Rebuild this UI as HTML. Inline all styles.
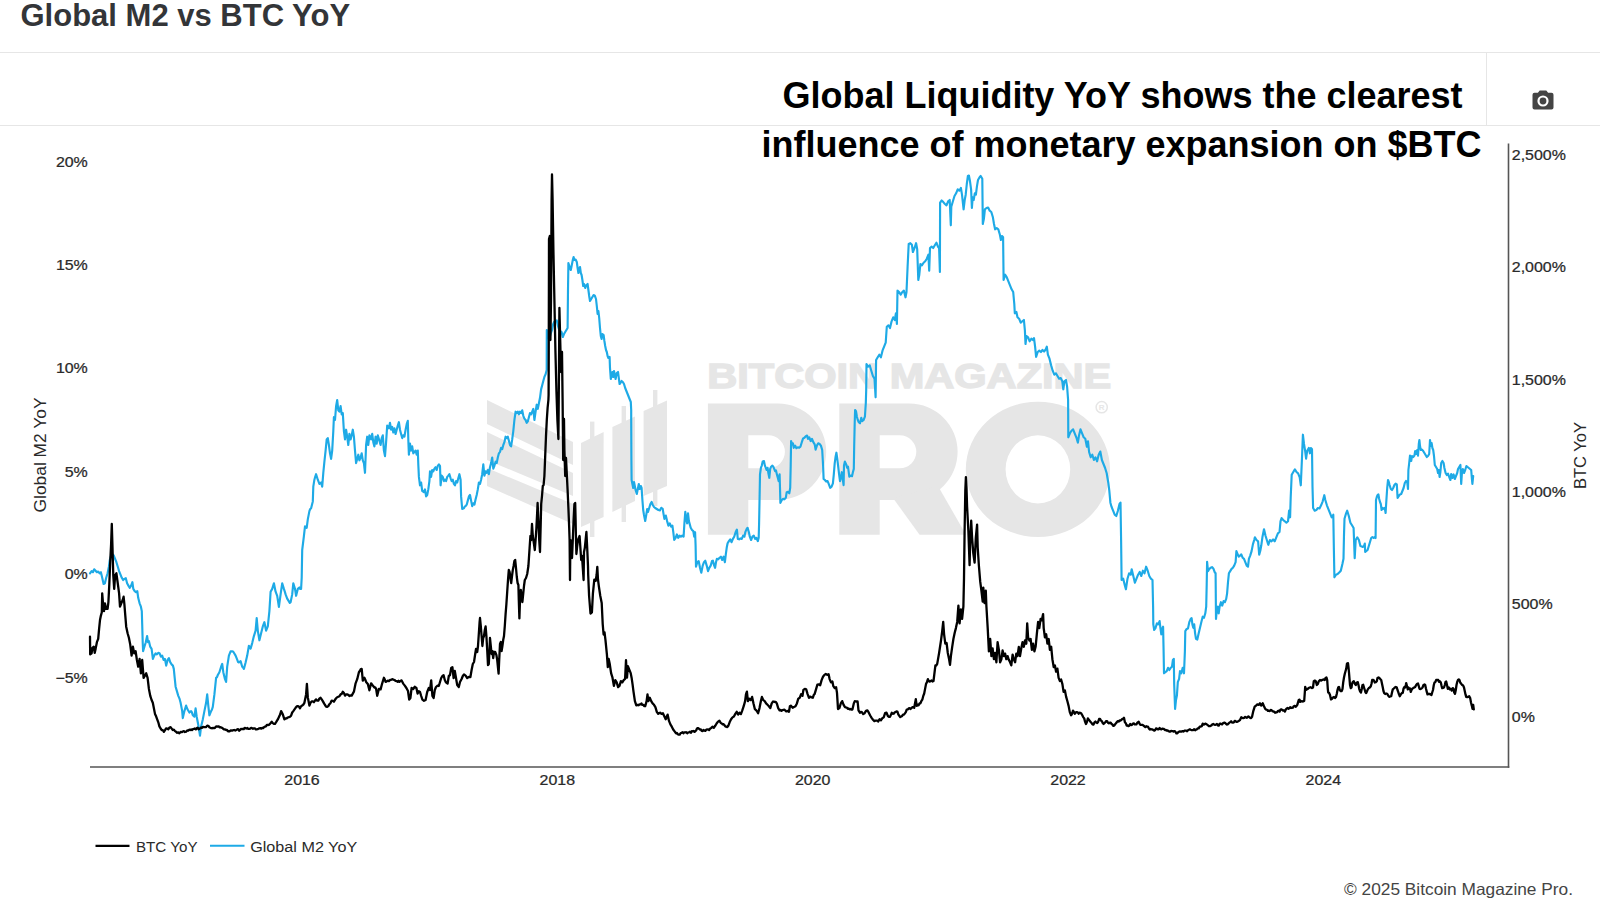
<!DOCTYPE html>
<html><head><meta charset="utf-8"><title>Global M2 vs BTC YoY</title>
<style>
html,body{margin:0;padding:0;background:#fff;}
body{width:1600px;height:900px;overflow:hidden;font-family:'Liberation Sans', sans-serif;}
svg{display:block;font-family:"Liberation Sans",sans-serif;}
</style></head><body>
<svg width="1600" height="900" viewBox="0 0 1600 900">
<rect width="1600" height="900" fill="#fff"/>
<g id="wm"><polygon points="487,400 573,442 573,465 487,424" fill="#e6e6e6"/><polygon points="487,432 573,473 573,496 487,460" fill="#e6e6e6"/><polygon points="487,468 573,504 573,524 487,486" fill="#e6e6e6"/><polygon points="581,443 603.6,432 603.6,517 581,527" fill="#e6e6e6"/><rect x="590" y="421.6" width="4.399999999999977" height="115.39999999999998" fill="#e6e6e6"/><polygon points="612.4,427 635,416.4 635,501 612.4,512" fill="#e6e6e6"/><rect x="621.6" y="406" width="4.399999999999977" height="116" fill="#e6e6e6"/><polygon points="643.6,411 667,400.4 667,486 643.6,496" fill="#e6e6e6"/><rect x="653" y="390" width="4.399999999999977" height="116" fill="#e6e6e6"/><text x="707.3" y="387.6" font-size="35" font-weight="bold" fill="#e6e6e6" textLength="404" lengthAdjust="spacingAndGlyphs" stroke="#e6e6e6" stroke-width="1.4">BITCOIN MAGAZINE</text><path d="M707.9,403.6 H778 A48.2,48.2 0 0 1 778,500 H748.3 V534.8 H707.9 Z M748.3,435.3 H768.4 A16.5,16.5 0 0 1 768.4,468.3 H748.3 Z" fill="#e6e6e6" fill-rule="evenodd"/><path d="M839.3,403.6 H909.4 A48.2,48.2 0 0 1 909.4,500 H879.6999999999999 V534.8 H839.3 Z M879.6999999999999,435.3 H899.8 A16.5,16.5 0 0 1 899.8,468.3 H879.6999999999999 Z" fill="#e6e6e6" fill-rule="evenodd"/><polygon points="893,498 938,486 966,534.8 919.6,534.8" fill="#e6e6e6"/><path d="M965.8,469.35 A72.1,67.65 0 1 0 1110,469.35 A72.1,67.65 0 1 0 965.8,469.35 Z M1005.6,469.35 A32.3,34 0 1 0 1070.2,469.35 A32.3,34 0 1 0 1005.6,469.35 Z" fill="#e6e6e6" fill-rule="evenodd"/><circle cx="1101.7" cy="407.2" r="5.6" fill="none" stroke="#e6e6e6" stroke-width="1.5"/><text x="1101.7" y="410.2" font-size="8" font-weight="bold" fill="#e6e6e6" text-anchor="middle">R</text></g>
<line x1="90" y1="767" x2="1509.3" y2="767" stroke="#555" stroke-width="1.6"/>
<line x1="1508.5" y1="143.5" x2="1508.5" y2="767.8" stroke="#555" stroke-width="1.6"/>
<text transform="translate(87.8,166.7) scale(1.10,1)" font-size="14.5" text-anchor="end" fill="#2a2a2a" stroke="#2a2a2a" stroke-width="0.25">20%</text>
<text transform="translate(87.8,270) scale(1.10,1)" font-size="14.5" text-anchor="end" fill="#2a2a2a" stroke="#2a2a2a" stroke-width="0.25">15%</text>
<text transform="translate(87.8,373.3) scale(1.10,1)" font-size="14.5" text-anchor="end" fill="#2a2a2a" stroke="#2a2a2a" stroke-width="0.25">10%</text>
<text transform="translate(87.8,476.7) scale(1.10,1)" font-size="14.5" text-anchor="end" fill="#2a2a2a" stroke="#2a2a2a" stroke-width="0.25">5%</text>
<text transform="translate(87.8,579.3) scale(1.10,1)" font-size="14.5" text-anchor="end" fill="#2a2a2a" stroke="#2a2a2a" stroke-width="0.25">0%</text>
<text transform="translate(87.8,682.7) scale(1.10,1)" font-size="14.5" text-anchor="end" fill="#2a2a2a" stroke="#2a2a2a" stroke-width="0.25">−5%</text>
<text transform="translate(1511.8,160) scale(1.10,1)" font-size="14.5" text-anchor="start" fill="#2a2a2a" stroke="#2a2a2a" stroke-width="0.25">2,500%</text>
<text transform="translate(1511.8,272.3) scale(1.10,1)" font-size="14.5" text-anchor="start" fill="#2a2a2a" stroke="#2a2a2a" stroke-width="0.25">2,000%</text>
<text transform="translate(1511.8,384.7) scale(1.10,1)" font-size="14.5" text-anchor="start" fill="#2a2a2a" stroke="#2a2a2a" stroke-width="0.25">1,500%</text>
<text transform="translate(1511.8,497) scale(1.10,1)" font-size="14.5" text-anchor="start" fill="#2a2a2a" stroke="#2a2a2a" stroke-width="0.25">1,000%</text>
<text transform="translate(1511.8,609.3) scale(1.10,1)" font-size="14.5" text-anchor="start" fill="#2a2a2a" stroke="#2a2a2a" stroke-width="0.25">500%</text>
<text transform="translate(1511.8,721.7) scale(1.10,1)" font-size="14.5" text-anchor="start" fill="#2a2a2a" stroke="#2a2a2a" stroke-width="0.25">0%</text>
<text transform="translate(302,784.6) scale(1.10,1)" font-size="14.5" text-anchor="middle" fill="#2a2a2a" stroke="#2a2a2a" stroke-width="0.25">2016</text>
<text transform="translate(557.3,784.6) scale(1.10,1)" font-size="14.5" text-anchor="middle" fill="#2a2a2a" stroke="#2a2a2a" stroke-width="0.25">2018</text>
<text transform="translate(812.7,784.6) scale(1.10,1)" font-size="14.5" text-anchor="middle" fill="#2a2a2a" stroke="#2a2a2a" stroke-width="0.25">2020</text>
<text transform="translate(1068,784.6) scale(1.10,1)" font-size="14.5" text-anchor="middle" fill="#2a2a2a" stroke="#2a2a2a" stroke-width="0.25">2022</text>
<text transform="translate(1323.3,784.6) scale(1.10,1)" font-size="14.5" text-anchor="middle" fill="#2a2a2a" stroke="#2a2a2a" stroke-width="0.25">2024</text>
<text transform="translate(45.8,455) rotate(-90)" font-size="16.5" textLength="115" lengthAdjust="spacingAndGlyphs" text-anchor="middle" fill="#2a2a2a">Global M2 YoY</text>
<text transform="translate(1585.8,455.5) rotate(-90)" font-size="16.5" text-anchor="middle" fill="#2a2a2a">BTC YoY</text>
<path d="M90,573.3 L91.6,571.1 L92.9,572.2 L94.2,569.3 L95.6,570.7 L96.9,572.2 L98.2,571.6 L99.6,573.3 L100.9,572.2 L102.2,577.8 L103.6,584 L104.9,583.3 L106.2,577.8 L107.6,573.3 L108.9,566.7 L109.8,560 L111.1,555.6 L112.2,554.2 L113.3,555.1 L113.8,555.6 L115.1,558.9 L116.4,562.2 L117.8,566.7 L119.1,571.1 L120.4,574.4 L121.8,577.8 L123.1,580 L124.4,578.9 L125.8,578.2 L127.1,583.3 L128.4,585.6 L129.8,587.8 L131.1,585.6 L132.4,582.2 L133.3,588.9 L134.7,591.1 L136,592.2 L137.3,591.1 L138.2,597.8 L139.6,603.3 L140.9,606.7 L141.8,611.1 L142.2,624.4 L142.7,642.2 L143.1,651.1 L144.4,646.7 L145.8,642.2 L147.1,636 L148,642.2 L148.9,641.1 L150.2,646.7 L151.6,648.9 L152.9,658.9 L154.2,655.6 L155.6,653.3 L156.9,654.4 L158.2,652.9 L159.6,653.3 L160.9,656.7 L162.2,655.6 L163.6,660 L164.9,658.9 L166.2,665.6 L167.6,660 L168.9,658.2 L170.2,662.2 L171.6,664.4 L172.9,665.6 L173.8,668.9 L174.7,677.8 L175.6,686.7 L176.9,691.1 L178.2,695.6 L179.6,698.9 L180.6,702.8 L182.2,711.1 L182.8,718.1 L184.4,711.1 L186.1,705.6 L186.9,708 L187.8,709.7 L189.4,712.5 L191.1,711.1 L191.9,712.4 L192.8,715.3 L194.4,716.7 L195.6,708.3 L196.7,716.7 L198.3,725 L200,735.6 L201.1,726.4 L202.8,719.4 L204.4,711.1 L206.1,702.8 L207.2,694.4 L208.3,705.6 L209.4,715.3 L211.1,711.1 L211.9,709.8 L212.8,706.9 L214.4,694.4 L216.1,677.8 L216.9,677.4 L217.8,675 L219.4,672.2 L221.1,666.7 L222.2,663.9 L223.3,672.2 L225,679.2 L226.1,681.9 L227.2,666.7 L228.9,655.6 L230.6,651.4 L232.2,651.4 L233.1,651.5 L233.9,652.8 L235.6,655.6 L237.2,659.7 L238.1,662.1 L238.9,662.5 L240.6,661.1 L242.2,666.7 L243.1,667.6 L243.9,668.9 L245.6,662.5 L247.2,655.6 L248.9,645.8 L250.6,648.6 L252.2,643.1 L253.9,636.1 L255.6,630.6 L256.7,618.1 L257.8,630.6 L259.4,640.3 L261.1,633.3 L262.8,626.4 L264.4,622.2 L266.1,630.6 L267.8,626.4 L269.4,611.1 L270.6,591.7 L272.2,588.9 L273.9,583.3 L275.6,591.7 L277.2,595.8 L278.9,606.9 L280.6,594.4 L282.2,583.3 L283.9,588.9 L284.8,591.6 L285.6,594.4 L287.2,598.6 L288.9,601.4 L289.8,602.9 L290.6,602.2 L292.2,594.4 L293.3,583.3 L295,588.9 L296.1,595.8 L297.8,588.9 L299.4,587.5 L300.2,588.9 L301.1,588.9 L301.7,577.8 L302.2,550 L303.9,536.1 L305,526.4 L306.7,527.8 L307.8,519.4 L309.4,511.1 L310.2,509 L311.1,508.3 L312.8,501.4 L313.3,486.7 L314.4,479.7 L315.2,476.8 L316.1,474.2 L317.8,479.7 L319.4,483.9 L320.2,483.2 L321.1,482.5 L322.2,486.7 L323.3,472.8 L324.4,461.7 L325.6,450.6 L326.7,439.4 L327.8,438.1 L328.9,445 L330,453.3 L331.1,458.9 L332.2,450.6 L333.3,431.1 L333.9,417.2 L335,420 L336.1,406.1 L337.2,400 L338.3,410.3 L339.4,411.7 L340.6,406.1 L341.7,414.4 L342.8,413.1 L343.9,431.1 L345,439.4 L346.1,429.7 L347.2,436.7 L348.3,445 L349.4,433.9 L350.6,439.4 L351.7,435.3 L352.8,429.7 L353.9,436.7 L355,450.6 L356.1,463.1 L357.2,458.9 L358.3,454.7 L359.4,460.3 L360.6,457.5 L361.7,453.3 L362.8,460.3 L363.9,463.1 L365,472.8 L366.1,445 L367.2,436.7 L368.3,445 L369.4,435.3 L370.2,437 L371.1,439.4 L372.2,433.9 L373.3,442.2 L374.4,446.4 L375.6,436.7 L376.7,443.6 L377.8,435.3 L379.4,440.8 L380.6,445 L381.7,438.1 L382.8,435.3 L383.9,450.6 L385,456.1 L386.1,442.2 L387.2,425.6 L388.9,428.3 L390,422.8 L391.1,429.7 L392.2,426.9 L393.3,432.5 L394.4,428.3 L395.6,433.9 L396.7,429.7 L397.8,425.6 L398.9,422.2 L400,429.7 L401.1,433.9 L402.2,438.1 L403.3,435.3 L404.4,436.7 L405.6,429.7 L406.7,424.2 L407.8,420.8 L408.3,439.4 L408.9,454.7 L410,443.6 L411.1,450.6 L412.2,446.4 L413.3,453.3 L414.4,451.9 L415.6,450.6 L416.7,454.7 L417.8,450.6 L418.3,464.4 L418.9,476.9 L420,485.3 L421.1,482.5 L422.2,490.8 L423.9,492.2 L425,489.4 L426.1,496.4 L427.2,495 L428.3,489.4 L429.4,481.1 L430,471.4 L431.1,476.9 L432.2,470 L433.3,471.4 L434.4,468.6 L435.6,467.2 L436.7,470 L437.8,465.8 L438.9,464.4 L440,465.8 L440.6,485.3 L441.7,475.6 L442.8,476.9 L443.9,481.1 L445,479.7 L446.1,481.1 L447.2,476.9 L448.3,475.6 L449.4,474.2 L450.6,478.3 L451.7,481.1 L452.8,479.7 L453.9,483.9 L455,485.3 L456.1,481.1 L457.2,482.5 L458.3,478.3 L459.4,474.2 L460.6,479.7 L461.1,496.4 L462.2,508.9 L463.9,508.3 L464.8,506.5 L465.6,506.1 L466.7,504.7 L467.8,500.6 L468.9,496.4 L470,495 L471.1,500.6 L472.2,506.1 L473.3,503.3 L474.4,504.7 L475.6,499.2 L476.7,495 L477.8,489.4 L478.9,482.5 L480,483.9 L481.1,479.7 L482.2,474.2 L483.3,464.4 L484.4,475.6 L485.6,471.4 L486.7,472.8 L487.8,470 L488.9,474.2 L490,467.2 L491.1,463.1 L492.2,457.5 L493.3,468.6 L494.4,465.8 L495.6,461.7 L496.7,463.1 L497.8,457.5 L498.9,453.3 L500,451.9 L501.1,447.8 L502.2,449.2 L503.3,445 L504.4,442.2 L505.6,436.7 L506.7,438.1 L507.8,436.7 L508.9,440.8 L510,445 L511.1,446.4 L512.2,439.4 L513.3,431.1 L514.4,420 L515.6,411.7 L516.7,413.1 L517.8,411.7 L518.9,414.4 L520,411.7 L521.1,413.1 L522.2,410.3 L523.3,415.8 L524.4,418.6 L525.6,420 L526.7,422.8 L527.8,421.4 L528.9,417.2 L530,413.1 L531.1,414.4 L532.2,411.7 L533.3,408.9 L534.4,420 L535.6,411.7 L536.7,404.7 L537.8,408.9 L538.9,403.3 L540,397.8 L541.1,389.4 L542.2,385.3 L543.3,381.1 L544.4,376.9 L545.6,374.2 L546.7,370 L546.8,330 L548,338 L549.2,339 L550.6,334 L552,330 L553.2,324 L554.4,321.6 L555.6,321 L556.8,320.4 L558,326 L559.2,330 L560.4,331 L561.6,332 L562.8,337 L564,334 L565.2,332 L566.4,330 L567.6,328 L568,290 L568.4,263 L569.6,267 L570.8,270 L572,264 L572.8,260 L573.6,257 L574.4,260 L575.6,259.6 L576.8,262 L577.6,268 L578.4,273 L579.2,269 L580,267 L580.8,273 L581.6,275 L582.4,280 L583.2,286 L584,284 L585.2,288 L586.4,285 L587.6,284 L588.4,290 L589.2,296 L590,301 L591.2,299 L592.4,297 L593.6,295 L594.8,295.6 L596,299 L596.8,306 L597.6,314 L598.4,311 L599.2,318 L600,328 L600.8,336 L601.6,339 L602.4,334 L603.6,335 L604.4,341 L605.2,346 L606,350 L606.8,352 L607.6,356 L608.4,358 L609.6,357 L610,368 L610.8,379 L611.6,374 L612.4,372 L613.2,377 L614,371 L614.8,375 L615.6,379 L616.8,373 L618,372 L618.8,378 L619.6,384 L620.4,383 L621.6,381 L622.8,382 L624,384 L625.2,388 L626.4,391 L627.6,394 L628.8,397 L630,400 L630.8,402 L631.2,410 L631.2,420 L631.4,460 L631.6,480 L632.4,484 L633.2,488 L634,482 L634.8,486 L635.6,490 L636.8,494 L638,488 L638.8,484 L639.6,489 L640.8,486 L641.6,488 L642.4,500 L643.2,510 L644,515 L645.2,521 L646.4,514 L647.2,509 L648,512 L649.2,508 L650.4,504 L651.6,502 L652.8,505 L654,507 L655.2,508 L656.8,509 L658.4,510 L660,510.4 L660,510 L661.3,507.8 L662.7,508.9 L663.6,514.4 L664.4,518.9 L665.8,515.6 L667.1,521.1 L668.4,525.6 L669.8,523.3 L671.1,526.7 L672.4,525.6 L673.3,532.2 L674.2,540 L675.6,537.8 L676.9,534.4 L678.2,537.8 L679.6,535.6 L680.9,536.7 L682.2,535.6 L683.6,536.7 L684.4,523.3 L685.3,511.8 L686.2,518.9 L687.1,523.3 L688,513.3 L688.9,521.1 L689.8,524.4 L690.7,527.8 L692,530 L693.3,531.1 L694.2,536.7 L695.1,532.2 L695.6,545.6 L696,566.7 L697.3,562.2 L698.7,561.1 L700,567.8 L701.3,572.7 L702.7,565.6 L704,562.2 L705.3,560.7 L706.7,565.6 L708,571.1 L709.3,567.8 L710.7,565.6 L712,561.1 L712.9,560.7 L714.2,565.6 L715.1,567.8 L716,562.2 L716.9,558.9 L718.2,559.3 L719.6,557.8 L720.9,556.7 L722.2,560 L723.6,556.7 L724.9,562.2 L725.8,554.4 L726.7,547.8 L727.6,543.3 L728.9,541.1 L730.2,539.3 L731.6,542.2 L732.9,538.9 L734.2,536.7 L735.6,532.2 L736.9,529.6 L737.8,538.9 L739.1,539.3 L740.4,538.4 L741.8,538.9 L743.1,535.6 L744.4,536.7 L745.3,532.2 L746.7,528.9 L747.6,527.8 L748.9,532.2 L749.8,536.7 L751.1,540 L752.4,536.7 L753.8,535.6 L755.1,538.9 L756.4,537.8 L757.8,541.1 L758.7,537.8 L759.1,523.3 L759.6,496.7 L760,474.4 L760.9,467.8 L761.8,465.6 L762.7,461.6 L764,461.1 L764.9,465.6 L765.8,467.8 L766.7,470 L767.6,467.8 L768.4,473.3 L769.3,477.8 L770.2,468.9 L771.1,466.7 L772.4,465.6 L773.3,466.7 L774.2,468.9 L775.1,471.1 L776,470.4 L776.9,474.4 L777.8,477.8 L778.7,481.1 L779.6,474.4 L780,487.8 L780.4,502.9 L781.8,500 L783.1,498.9 L784.4,499.3 L785.8,497.8 L786.7,492.2 L788,491.8 L789.3,493.3 L790.2,487.8 L790.7,465.6 L791.1,441.1 L792,444.4 L792.9,443.3 L793.8,447.8 L795.1,445.6 L796.4,448.2 L797.8,447.3 L799.1,447.8 L800.4,446.7 L801.8,442.2 L803.1,438.4 L804.4,437.8 L805.8,436.2 L807.1,435.6 L808,438.9 L809.3,437.3 L810.7,441.1 L812,438.9 L813.3,442.2 L814.7,444.4 L815.6,449.6 L816.9,445.6 L818.2,443.3 L819.6,444 L820.9,445.6 L822.2,450 L823.1,465.6 L823.6,478.9 L824.9,480 L826.2,481.6 L827.6,481.1 L828.9,484.4 L830.2,487.8 L831.6,486.7 L832.9,483.3 L833.8,474.4 L834.7,463.3 L835.6,456.7 L836.4,452.7 L837.3,458.9 L838.2,466.7 L839.1,474.4 L840,481.1 L840.9,477.8 L841.8,472.2 L842.7,478.9 L843.6,485.1 L844,465.6 L844.9,461.6 L846.2,464.4 L847.1,467.8 L848,466.7 L849.3,476.7 L850.7,475.6 L852,476.2 L852.9,472.2 L853.8,468.9 L854.2,445.6 L854.7,423.3 L855.1,410 L856,411.1 L856.9,416.7 L857.8,420 L858.7,422.2 L860,423.3 L861.3,417.8 L862.2,421.1 L863.6,420 L864.9,416.7 L865.8,403.3 L866.2,390 L866.5,364 L868.1,366.7 L869.7,365.3 L871.3,370.7 L872.9,376 L874.5,378.7 L875.6,397.3 L876.1,360 L877.7,357.3 L879.3,354.7 L880.9,357.3 L882.5,350.7 L884.1,346.7 L885.7,342.7 L886.8,326.7 L888.4,325.3 L890,328 L891.6,321.3 L893.2,317.3 L894.8,320 L895.9,313.3 L896.9,324 L897.5,290.7 L899.1,292 L900.7,294.7 L902.3,292 L903.9,290.7 L905.5,297.3 L906.5,292 L907.6,266.7 L908.7,244 L910.3,243.2 L911.9,244.8 L912.9,252 L914.5,248 L916.1,243.2 L917.2,249.3 L918.3,280 L919.3,274.7 L920.4,264 L922,265.3 L923.6,262.7 L925.2,261.3 L926.8,258.7 L928.4,254.7 L929.2,270.7 L930,248 L931.6,246.7 L933.2,248 L934.8,245.3 L936.4,242.7 L938,246.7 L939.1,248 L939.9,272 L940.1,202.7 L941.7,200.5 L943.3,202.1 L944.9,204 L946.5,205.3 L948.1,201.3 L949.7,200 L950.8,225.3 L951.3,206.7 L952.9,201.3 L954.5,196 L956.1,193.3 L957.7,189.3 L959.3,190.7 L960.9,188 L962,194.7 L963.6,209.3 L964.7,200 L965.7,194.7 L966.8,184 L967.9,176 L968.9,175.5 L970,181.3 L971.1,189.3 L971.9,208 L972.7,197.3 L973.7,200 L974.8,193.3 L975.9,194.7 L976.9,186.7 L978,180 L979.6,177.3 L980.7,176 L982.3,178.7 L982.8,224 L983.9,218.7 L984.9,209.3 L986.5,208 L988.1,207.5 L989.7,210.7 L991.3,212 L992.9,217.3 L994,224 L995.1,229.3 L996.7,228 L998.3,229.3 L999.9,234.7 L1000.9,240 L1002,236 L1003.1,237.3 L1003.6,280 L1005.2,274.7 L1006.8,277.3 L1008.4,281.3 L1010,285.3 L1011.6,289.3 L1013.2,292 L1014.3,304 L1014.8,313.3 L1016.4,312 L1017.5,317.3 L1019.1,318.7 L1020.7,322.7 L1022.3,321.3 L1023.9,320 L1024.9,330.7 L1025.5,344 L1026.5,336 L1028.1,337.3 L1029.7,341.3 L1031.3,338.7 L1032.9,340 L1034,338.1 L1035.1,346.7 L1036.1,356.8 L1037.7,352 L1039.3,350.7 L1040.9,352 L1042.5,349.9 L1044.1,351.5 L1045.7,349.3 L1046.8,346.7 L1047.9,354.7 L1049.5,358.7 L1051.1,365.3 L1052.7,370.7 L1054.3,374.7 L1055.9,373.3 L1057.5,376 L1059.1,378.7 L1060.7,378.1 L1062.3,381.3 L1063.3,389.3 L1064.4,381.3 L1066,380 L1067.1,386.7 L1068.1,400 L1068.3,437.3 L1069.9,433.3 L1071.5,430.7 L1073.1,429.3 L1074.7,433.3 L1076.3,437.3 L1077.9,442.7 L1078.9,436 L1080.5,429.3 L1082.1,433.3 L1083.7,437.3 L1085.3,438.7 L1086.9,446.7 L1088,441.3 L1089.1,452 L1090.7,457.3 L1092.3,454.7 L1093.9,460 L1095.5,457.3 L1097.1,461.3 L1098.7,454.7 L1100.3,451.5 L1101.9,460 L1103.5,464 L1105.1,468 L1106.7,473.3 L1108.3,482.7 L1109.3,490.7 L1110.4,502.7 L1111.5,506.7 L1113.1,510.7 L1114.7,514.7 L1116.3,516 L1117.9,510.7 L1119.5,504 L1120.5,502.7 L1121.1,540 L1121.6,580 L1123.2,578.7 L1124.8,585.3 L1125.9,589.3 L1127.5,578.7 L1129.1,573.3 L1130.7,574.7 L1131.7,569.3 L1133.3,576 L1134.9,582.7 L1136.5,578.7 L1138.1,574.7 L1139.7,572 L1141.3,576 L1142.9,570.7 L1144.5,573.3 L1146.1,566.7 L1147.7,570.7 L1149.3,576 L1150.9,578.7 L1152.5,580 L1153.1,606.7 L1153.3,624.4 L1154.2,630 L1155.6,627.8 L1156.9,623.3 L1158.2,624.4 L1159.6,621.1 L1160.4,627.8 L1161.3,634.4 L1162.2,628.9 L1163.1,626.7 L1163.6,651.1 L1164,673.3 L1165.3,672.2 L1166.7,671.1 L1168,667.8 L1169.3,670 L1170.7,667.8 L1172,666.7 L1172.9,660 L1173.8,658.9 L1174.2,684.4 L1175.1,708.9 L1176,700 L1176.9,695.6 L1177.8,682.2 L1179.1,678.9 L1180,671.1 L1181.3,673.3 L1182.7,667.8 L1184,673.3 L1184.9,651.1 L1185.3,631.1 L1186.7,628.9 L1188,628.4 L1189.3,622.2 L1190.7,618.9 L1191.6,618.2 L1192.4,624.4 L1193.3,627.8 L1194.2,624.4 L1195.1,633.3 L1196,638.9 L1197.3,639.6 L1198.7,633.3 L1200,627.8 L1201.3,622.2 L1202.7,616.7 L1204,617.8 L1205.3,613.3 L1206.2,606.7 L1206.7,584.4 L1207.1,561.8 L1208,571.1 L1209.3,568.9 L1210.7,567.8 L1212,567.1 L1213.3,568.4 L1214.7,572.2 L1215.6,573.3 L1216,618.9 L1216.9,608.9 L1217.8,606.7 L1218.7,613.3 L1219.6,606.7 L1220.9,602.2 L1222.2,605.6 L1223.6,601.1 L1224.9,602.2 L1226.2,598.9 L1227.1,593.3 L1228,582.2 L1228.9,573.3 L1230.2,571.1 L1231.6,568.9 L1232.9,567.8 L1234.2,565.6 L1235.6,562.2 L1236.4,551.1 L1237.3,553.3 L1238.7,556.7 L1240,555.6 L1241.3,554.4 L1242.7,557.8 L1244,558.9 L1245.3,562.2 L1246.7,565.6 L1248,566.7 L1248.9,558.9 L1250.2,555.6 L1251.6,551.1 L1252.9,544.4 L1254.2,540 L1254.9,537.3 L1256.5,540 L1258.1,541.3 L1259.2,554.7 L1260.3,550.7 L1261.3,545.3 L1262.4,537.3 L1264,529.3 L1265.6,536 L1267.2,541.3 L1268.3,544.8 L1269.9,540 L1271.5,541.3 L1273.1,539.5 L1274.7,541.3 L1276.3,537.3 L1277.9,533.3 L1279.5,532 L1280.5,521.3 L1281.6,518.1 L1283.2,520 L1284.8,521.3 L1286.4,522.7 L1288,521.3 L1289.1,510.7 L1290.1,517.3 L1290.7,497.3 L1291.7,474.7 L1293.3,472 L1294.9,469.3 L1296.5,472 L1298.1,473.3 L1299.7,477.3 L1300.8,485.3 L1301.9,460 L1302.9,434.7 L1304,444 L1305.1,450.7 L1306.1,458.7 L1307.2,450.7 L1308.8,448 L1309.9,453.3 L1310.9,448 L1312,449.3 L1312.5,486.7 L1313.1,508 L1314.7,510.7 L1316.3,510.1 L1317.9,508 L1319.5,508.5 L1321.1,505.3 L1322.7,501.3 L1324.3,495.2 L1325.3,500 L1326.9,505.3 L1328.5,509.3 L1330.1,513.3 L1331.7,517.3 L1333.3,514.7 L1333.9,550.7 L1334.4,577.3 L1336,574.7 L1337.6,574.1 L1339.2,572.5 L1340.8,570.7 L1342.4,564 L1343.5,558.7 L1344,534.7 L1344.5,518.7 L1346.1,513.3 L1347.2,510.7 L1348.8,516 L1350.4,522.7 L1352,525.3 L1353.6,528 L1354.7,558.1 L1355.7,540 L1357.3,537.3 L1358.9,540 L1360.4,546 L1361.6,546.4 L1362.8,547 L1364,546 L1364.8,543.6 L1365.2,552 L1366.4,551 L1367.6,550 L1368.8,546 L1370,542 L1371.2,538 L1372.4,537 L1373.6,538 L1374.8,537 L1375.6,538 L1376,500 L1376.8,497 L1377.6,495 L1378.4,494.4 L1379.2,499 L1380,502 L1380.8,504 L1381.6,510 L1382.8,508 L1384,509 L1384.8,508 L1385.6,513 L1386.4,500 L1387.2,488 L1388,480 L1388.8,482 L1389.6,485 L1390.8,489 L1392,490 L1393.2,488 L1394.4,485 L1395.6,483.6 L1396.8,484.4 L1397.6,498 L1398.8,496 L1400,494.4 L1401.2,494 L1402.4,491 L1403.6,488 L1404.8,483 L1406,481 L1407.2,482 L1408,489 L1408.4,470 L1409.2,463 L1410,455.6 L1411.2,461 L1412,456 L1413.2,457 L1414.4,455.6 L1415.2,451 L1416.4,454 L1417.2,450 L1418,455.6 L1418.8,444 L1419.4,440 L1420,446 L1420.8,450 L1422,449.6 L1423.2,451 L1424.4,453 L1425.6,455 L1426.8,457 L1428,456 L1429.2,454 L1430,440 L1430.8,446 L1431.6,443 L1432.4,448 L1433.2,450 L1434,456 L1434.8,465 L1436,467 L1437.2,469 L1438,473 L1438.8,470 L1439.6,477 L1440.4,472 L1441.2,463 L1442.4,461 L1443.6,463 L1444.4,468 L1445.6,473 L1446.8,475 L1448,473.6 L1449.2,477 L1450.4,480 L1451.2,474 L1452.4,478 L1453.6,474.4 L1454.8,479 L1456,476 L1457.2,473 L1458,469 L1459.2,467 L1460.4,465 L1461.2,484 L1462,472 L1462.8,469 L1464,473 L1465.2,470 L1466.4,466 L1467.6,467 L1468.8,468 L1470,469 L1471.2,470 L1472,480 L1472.4,484 L1473.2,476" fill="none" stroke="#1eaae6" stroke-width="2.15" stroke-linejoin="round" stroke-linecap="round"/>
<path d="M90,636.7 L90.2,654.4 L91.6,653.3 L92.4,647.8 L93.8,646.7 L94.7,652.9 L95.6,648.9 L96.9,642.2 L98.2,638.9 L99.1,628.9 L100,620 L100.9,615.6 L101.8,612.2 L102.2,593.3 L103.1,604.4 L104,611.1 L104.9,603.3 L106.2,608.9 L107.6,608.9 L108.4,602.2 L109.3,584.4 L110.2,562.2 L111.1,544.4 L111.8,524 L112.4,544.4 L112.9,562.2 L113.3,575.6 L114.2,588.9 L115.1,575.6 L116.4,573.3 L117.3,580 L118.2,586.7 L119.1,593.3 L120,606.7 L121.3,603.3 L122.7,600 L123.6,596.7 L124.4,604.4 L125.3,615.6 L126.2,626.7 L127.6,633.3 L128.9,637.8 L130.2,644.4 L131.6,655.6 L132.9,646.7 L134.2,653.3 L135.6,651.1 L136.9,660 L138.2,666.7 L139.6,658.9 L140.9,673.3 L142.2,660 L143.6,677.8 L144.9,675.6 L146.2,673.3 L147.6,677.8 L148.9,688.9 L150.2,695.6 L151.6,700 L152.8,702.8 L155,713.9 L156.1,716.3 L157.2,719.4 L158.3,722.3 L159.4,726.4 L160.6,728.5 L161.7,730 L162.8,730.2 L163.9,731.9 L165,730.2 L166.1,728.3 L167.2,728.6 L168.3,729.4 L169.4,727.5 L170.6,727.2 L171.7,728.6 L172.8,730 L173.9,729.7 L175,731.1 L176.1,731.8 L177.2,732.8 L178.3,732.3 L179.4,733.3 L180.6,732 L181.7,732.2 L182.8,731.5 L183.9,731.1 L185,732 L186.1,731.7 L187.2,730.5 L188.3,730.6 L189.2,729.7 L190.2,730 L191.1,729.4 L192,730 L193,729.2 L193.9,728.9 L194.8,728.5 L195.8,729.4 L196.7,728.3 L197.6,727.7 L198.5,729.3 L199.4,728.9 L200.3,728.2 L201.3,727.5 L202.2,727.8 L203.1,726.9 L204.1,727.1 L205,727.2 L206.1,727 L207.2,725.6 L208.3,725.8 L209.4,727.2 L210.3,727.7 L211.3,728.2 L212.2,728.3 L213.1,727.9 L214.1,728.1 L215,727.8 L215.9,726.6 L216.9,726.3 L217.8,726.7 L218.7,726.3 L219.7,727.4 L220.6,727.2 L221.5,727.6 L222.4,728 L223.3,728.9 L224.2,729.4 L225.2,729.5 L226.1,730 L227,730 L228,731.3 L228.9,731.1 L229.8,731.3 L230.8,730.3 L231.7,730.6 L232.6,730.5 L233.5,730.2 L234.4,730 L235.3,730.5 L236.3,730 L237.2,729.4 L238.1,729.2 L239.1,730.7 L240,730 L240.9,728.9 L241.9,729.1 L242.8,728.9 L243.7,729.2 L244.7,727.9 L245.6,728.3 L246.5,728.5 L247.4,727.9 L248.3,728.9 L249.2,728.8 L250.2,728.6 L251.1,727.8 L252,728.1 L253,728.8 L253.9,728.3 L254.8,728.3 L255.8,729.4 L256.7,729.4 L257.6,729.2 L258.5,728.8 L259.4,728.3 L260.3,728.1 L261.3,728.6 L262.2,727.8 L263.1,728.2 L264.1,727 L265,726.7 L265.9,726.4 L266.9,724.8 L267.8,725 L268.9,724.8 L270,723.9 L271.7,721.7 L272.8,723.1 L273.9,723.9 L275,723.9 L276.1,722.2 L277.8,719.4 L279.4,716.1 L280.2,714.2 L281.1,711.1 L282.8,714.4 L284.4,719.4 L285.5,718.5 L286.7,718.3 L287.8,717.5 L288.9,717.2 L290,716.7 L291.1,715.6 L292.2,712.5 L293.3,711.1 L294.5,709.4 L295.6,707.8 L296.7,706.4 L297.8,706.1 L298.9,706.5 L300,708.3 L301.1,706.2 L302.2,705.6 L303.3,704.7 L304.4,702.8 L306.1,694.4 L306.9,683.9 L307.8,697.2 L309.4,705.6 L310.5,702.8 L311.7,701.4 L312.8,701.3 L313.9,702.2 L315,700.6 L316.1,699.4 L317.2,700.7 L318.3,700.6 L319.5,698.4 L320.6,697.8 L321.7,699.4 L322.8,701.1 L323.9,703.1 L325,705 L326.1,706.6 L327.2,706.9 L328.3,706.1 L329.4,704.2 L330.5,703.1 L331.7,700.6 L332.8,700.8 L333.9,701.7 L335,699.8 L336.1,698.3 L337.2,697.2 L338.3,696.7 L339.5,696.2 L340.6,694.4 L341.7,693.9 L342.8,691.7 L343.9,693 L345,695.6 L346.1,694.4 L347.2,694.4 L348.3,694.8 L349.4,696.1 L350.5,695.4 L351.7,695.6 L352.8,693.6 L353.9,691.7 L355.6,683.3 L357.2,679.2 L358.9,672.2 L359.8,671 L360.6,669.4 L361.7,668.9 L362.8,680.6 L364.4,677.8 L365.2,679.4 L366.1,681.9 L367.8,683.9 L369.4,690.3 L371.1,683.3 L372.8,685.6 L374.4,687.5 L375.2,687.3 L376.1,688.9 L377.2,695.8 L378.9,688.9 L379.8,689 L380.6,689.4 L382.2,683.3 L383.9,677.8 L384.8,679.6 L385.6,681.9 L386.7,681.4 L387.8,680.6 L388.9,681.1 L390,680 L391.1,679.9 L392.2,679.2 L393.3,679.6 L394.4,680 L395.5,680.8 L396.7,681.1 L397.6,681.7 L398.5,680.8 L399.4,681.9 L400,681.2 L401.6,680.4 L403.2,683.6 L404.8,685.6 L406.4,688 L408,691 L409.2,699.6 L410.4,698 L411.6,688 L413.2,689 L414.8,686.8 L416.4,688 L417.6,693.6 L418.8,691.2 L420,692 L421.2,696 L422.4,699.6 L424,700.8 L425.6,700 L427.2,692 L428.8,688 L430,690 L431.2,680.4 L432.4,696 L433.6,698 L434.8,690 L436,687 L437.6,685.6 L438.8,686 L440,682 L441.2,678 L442.4,676 L443.6,675.2 L444.8,680 L446,682.4 L447.6,683.6 L448.8,676 L450,675 L451.2,668 L452.4,667.2 L453.6,678 L454.8,671 L456,678 L457.2,685 L458.8,687 L460,682 L461.6,679 L462.8,676 L464,674.4 L465.6,675.6 L467.2,678 L468.8,677 L470.4,677 L471.6,670 L472.8,664 L474,662 L475.2,654 L476,649 L477.2,652 L478,646 L478.8,634 L479.6,622 L480,618 L480.8,626 L481.6,636 L482.4,646 L483.2,638 L484,636 L484.8,630 L485.6,626.4 L486.4,636 L487.2,650 L488,665.2 L488.8,664 L489.6,648 L490,638 L490.8,646 L491.6,654 L492.4,651 L493.2,658 L494,652 L495.2,652 L496.4,655 L497.2,660 L498,668 L498.6,673.6 L499.2,660 L500,644 L500.8,642 L501.6,651 L502.4,646 L503.2,640 L504,636 L504.8,626 L505.6,614 L506.4,604 L507.2,592 L508,580 L508.8,570 L509.6,572 L510.4,578 L511.2,583 L512,576 L512.8,570 L513.6,566 L514.4,561 L515.2,560 L516,568 L516.8,577 L517.6,583 L518.4,585 L518.8,600 L519.4,618.4 L520,600 L520.8,590 L521.6,596 L522.4,602 L523.2,594 L524,586 L524.8,580 L526,578 L527.2,574 L528.4,566 L529.6,548 L530.4,536 L531.2,540 L532,524 L532.8,536 L534,544 L534.8,550 L535.6,540 L536.4,528 L537.2,512 L537.6,503 L538.4,520 L539.2,540 L540,552 L540.8,520 L541.2,504 L542,496 L542.8,486 L543.6,485 L544.4,476 L545.2,456 L546,436 L546.8,420 L547.6,408 L548.4,400 L548.6,395 L548.8,330 L549,239 L549.8,236 L550.4,340 L551,300 L551.6,200 L552,174.5 L552.6,200 L553.4,250 L554.4,300 L555.4,350 L556.4,390 L557.4,420 L558.4,439 L558.9,380 L559.4,308 L560.2,340 L561,372 L562,352 L562.6,400 L563.2,460 L564,419 L564.4,450 L565.2,476 L566,458 L566.8,474 L567.6,490 L568.4,508 L569.2,528 L569.6,540 L570,580 L570.4,540 L571.2,542 L572,558 L572.8,540 L573.6,520 L574.4,504 L575.2,503 L575.6,520 L576,540 L576.4,554 L577.2,546 L578,540 L578.8,538 L579.6,536 L580.4,548 L581.2,560 L582,556 L582.8,568 L583.6,580 L584,552 L584.8,548 L585.6,540 L586.4,532 L587.2,548 L588,566 L588.2,575 L589.1,596 L590.5,613.5 L591.9,612.4 L592.9,593.7 L594.3,579.7 L595.7,580.8 L596.6,575 L597.3,566.8 L598,579.7 L598.9,586.7 L600.3,596 L601.7,603 L602.7,624 L603.6,634.5 L604.5,632.2 L605.5,640.4 L606.9,654.4 L607.8,667.2 L608.7,659 L609.7,663.7 L611.1,673.1 L612.5,677.7 L613.9,685.9 L615.3,680.1 L616.7,682.4 L618.1,687.1 L619.5,685.9 L620.9,681.2 L622.3,682.4 L623.7,680.1 L625.1,678.9 L626,660.2 L627,677.7 L627.9,666.1 L629.3,669.6 L630.7,673.1 L631.6,677.7 L632.6,684.7 L633.5,691.7 L634.9,701.1 L636.3,705.3 L637.7,704.8 L638.7,705.3 L639.6,704.3 L640.5,704.4 L641.4,703.4 L642.3,704.8 L643.3,704.8 L644.2,706 L645.2,706.2 L646.6,701.1 L647.5,694.5 L648.4,701.1 L649.8,697.8 L651.2,701.1 L652.6,703.4 L654,704.8 L655.4,707.1 L656.8,711.8 L658.2,713.9 L659.2,713.1 L660.1,712.7 L661.5,713.9 L662.9,713.2 L664.3,716.2 L665.7,719.3 L666.7,716.8 L667.6,714.6 L669,720.9 L670.4,724.4 L671.8,726.7 L673.2,729.5 L674.6,731.4 L676,733.3 L676.9,733 L677.8,734.2 L678.8,734.7 L679.7,734.7 L680.7,733 L681.6,732.8 L682.5,732.3 L683.4,733.3 L684.3,732.3 L685.3,732.3 L686.2,732.2 L687.2,733.3 L688.1,732.5 L689,732.3 L690,731.7 L690.9,732.8 L691.8,731.2 L692.8,731.4 L693.7,731 L694.6,731.9 L696.1,730.5 L697,728.6 L697.9,728.1 L698.8,728.6 L699.8,729.5 L700.8,729.3 L701.7,730.9 L702.6,731.1 L703.5,730 L704.5,730.7 L705.4,730.9 L706.3,729.6 L707.3,729.5 L708.2,729.3 L709.1,730 L710,728.8 L711,728.1 L712.4,726.7 L713.8,727.7 L715.2,725.8 L716.6,723.5 L718,721.6 L719.4,720.7 L720.8,723 L721.8,723.5 L722.7,724.4 L723.6,724.2 L724.5,725.3 L725.5,726.6 L726.4,726.7 L727.3,727.1 L728.3,725.8 L729.7,722.1 L731.1,719.3 L732.5,717.4 L733.9,716.5 L735.3,713.9 L736.7,711.8 L738.1,714.6 L739.5,712.7 L740.9,714.1 L742.3,710.4 L743.7,706.2 L745.1,701.1 L746,694.1 L746.9,691.7 L747.9,701.1 L749.3,698.7 L750.7,700.1 L752.1,696.9 L753.5,703.4 L754.9,709.2 L756.3,710.4 L757.2,711.7 L758.1,713.2 L759.5,708.1 L760.9,701.1 L761.9,696.9 L763.3,700.1 L764.7,701.1 L766.1,703.4 L767.5,704.8 L768.9,706.2 L770.3,708.1 L771.7,703.4 L773.1,701.5 L774,701.7 L774.9,702 L775.8,702 L776.8,703.4 L778.2,708.1 L779.6,710.4 L780.5,709.9 L781.5,710.9 L782.5,710.1 L783.4,709.9 L784.3,709.7 L785.2,710.4 L786.2,711.4 L787.1,711.3 L788,710.9 L789,711.8 L789.9,706.2 L790.8,705.6 L791.8,706.7 L792.7,707.7 L793.6,707.1 L794.5,706.7 L795.5,706.2 L796.9,703.4 L798.3,698.7 L799.7,697.8 L801.1,694.1 L802.5,695.9 L803.4,689.9 L804.8,688.9 L806.2,689.4 L807.6,694.1 L809,697.8 L810,696.7 L810.9,696.9 L811.8,697.4 L812.8,697.8 L813.7,695.1 L814.6,694.1 L816,689.4 L817.4,684.7 L818.8,684.3 L820.2,685.2 L821.6,680.1 L823,676.8 L824.4,674.9 L825.8,674 L827.2,674.9 L828.6,674.2 L829.6,679.1 L831,682.4 L832.4,681.5 L833.3,686.1 L834.7,688 L836.1,687.1 L837,692.9 L838,709 L839.4,708.1 L840.8,703.4 L842.2,701.1 L843.6,704.8 L845,707.1 L845.9,707.4 L846.8,707.6 L847.8,708.9 L848.7,708.5 L849.7,709.4 L850.6,709 L851.5,709.6 L852.4,709.5 L853.8,703.4 L854.8,701.1 L856.2,701.5 L857.6,701.5 L858.5,710.4 L859.9,712.7 L861.3,711.8 L862.2,712.5 L863.2,714.1 L864.6,713.2 L866,710.9 L867.4,710.4 L868.8,712.7 L870.2,715.5 L871.6,717.9 L873,719.7 L874.4,721.1 L875.3,720.7 L876.3,720.7 L877.2,720.6 L878.1,721.6 L879.5,719.3 L880.9,720.2 L882.3,718.3 L883.7,717.4 L885.1,713.2 L886.5,712.7 L887.9,716 L889,716.9 L890,716.9 L890.9,714.9 L891.8,712.8 L892.8,713.8 L893.7,713.7 L894.6,712.6 L895.5,712.1 L896.5,711.3 L897.4,711.5 L898.3,714.3 L899.3,715.9 L900.2,717.1 L901.1,716.5 L902,716.2 L903,714.6 L904,714.6 L904.9,713.4 L905.8,712.1 L906.7,709.6 L907.7,709.4 L908.6,708.4 L909.5,708.2 L910.5,709 L911.4,708.1 L912.3,707.2 L913.2,707.2 L914.2,707.8 L915.8,699.1 L916.7,705.9 L917.7,704.8 L918.6,705.3 L919.5,703.5 L920.4,703.4 L921.3,701.2 L922.3,699.7 L923.2,696.2 L924.2,693.5 L926,684.1 L927,681.9 L927.9,679.1 L928.8,681.2 L929.8,681.6 L930.7,680.9 L931.6,680.4 L932.5,681.5 L933.5,681 L935.4,665.4 L936.3,665.5 L937.2,663.9 L939.1,653 L941,640.5 L942.2,631.2 L943.2,621.9 L944.1,634.3 L945.3,643.7 L946.6,643 L947.8,653 L949.1,659.2 L950,664.8 L950.9,656.1 L952.2,646.8 L953.4,639 L954.7,632.8 L955.9,628.1 L957.2,621.9 L958.4,605.7 L959.6,623.4 L960.9,609.4 L962.1,618.8 L963.4,606.3 L964,578.3 L964.6,531.6 L965.3,491.1 L965.9,477.1 L966.5,488 L967.1,506.7 L968.4,531.6 L969.6,565.2 L970.2,540.9 L971.2,520.7 L972.1,537.8 L973.3,553.4 L974.6,562.7 L975.8,537.8 L977.1,524.7 L977.7,547.2 L978.9,565.8 L980.2,581.4 L981.4,590.7 L982.7,601.6 L983.3,587.6 L984.6,603.2 L985.8,590.7 L986.4,606.3 L987.7,628.1 L988.9,651.4 L990.2,639 L991.4,656.1 L992.6,648.3 L993.9,659.2 L995.1,653 L996.4,662.3 L997.6,642.1 L998.9,649.9 L1000.1,662.3 L1001.4,659.2 L1002.6,650.5 L1003.9,656.1 L1005.1,653.6 L1006.3,659.2 L1007.6,656.1 L1008.8,659.8 L1010.1,662.3 L1011.3,665.4 L1012.6,654.6 L1013.8,659.2 L1015.1,662.3 L1016.3,653.6 L1017.5,656.1 L1018.8,646.8 L1020,656.1 L1021.3,648.3 L1022.5,642.1 L1023.8,646.8 L1025,640.5 L1026.3,643.7 L1027.2,623.4 L1028.1,637.4 L1029.4,640.5 L1030.6,639 L1031.9,649.9 L1033.1,643.7 L1034.4,651.4 L1035.6,646.8 L1036.8,634.3 L1038.1,621.9 L1039.3,628.1 L1040.6,618.8 L1041.8,620.3 L1043.1,614.1 L1043.7,628.1 L1044.9,637.4 L1046.2,634.3 L1047.4,643.7 L1048.7,639 L1049.9,649.9 L1051.2,646.8 L1052.4,659.2 L1053.7,667 L1054.9,665.4 L1056.1,671.7 L1057.4,668.6 L1058.6,677.9 L1059.9,681 L1061.1,679.5 L1062.4,684.1 L1063.6,691.9 L1064.9,690.4 L1066.1,696.6 L1067.4,701.2 L1068.6,705.9 L1069.8,712.1 L1071.1,715.3 L1072,713.8 L1073,710.6 L1073.9,711.9 L1074.8,713.7 L1075.8,712.4 L1076.7,712.1 L1077.7,712.4 L1078.6,713.7 L1079.5,712.7 L1080.4,712.8 L1081.3,713.5 L1082.3,715.3 L1083.2,717.1 L1084.2,718.4 L1085.1,721.9 L1086,724 L1087,721.8 L1087.9,718.4 L1088.8,719.6 L1089.8,720.9 L1090.7,722.2 L1091.6,723 L1092.5,724.3 L1093.5,724.6 L1094.5,722.3 L1095.4,721.5 L1096.3,722.5 L1097.2,723 L1098.2,721.7 L1099.1,719 L1100,718.9 L1100.9,720.5 L1101.8,721.1 L1102.7,723 L1103.6,724 L1104.4,723.1 L1105.3,722.2 L1106.2,721.1 L1107.1,721.1 L1108,722.7 L1108.9,723.3 L1109.8,722.7 L1110.7,722.7 L1111.6,724.1 L1112.4,724.4 L1113.3,725.8 L1114.2,725.6 L1115.1,724.3 L1116,723.3 L1116.9,722 L1117.8,721.1 L1118.7,721.6 L1119.6,720.4 L1120.4,720.6 L1121.3,720 L1122.2,718.9 L1123.1,718.9 L1124,717.8 L1124.9,722.2 L1125.8,723.2 L1126.7,725.6 L1127.6,725.3 L1128.4,726.2 L1129.3,725.8 L1130.2,724 L1131.1,725 L1132,724.9 L1132.9,723.5 L1133.8,723.3 L1134.7,724.4 L1135.6,724.4 L1136.4,724.4 L1137.3,722.7 L1138.7,721.8 L1140,724.4 L1140.9,724.9 L1141.8,724.9 L1142.7,725 L1143.6,725.6 L1144.4,726.4 L1145.3,727.1 L1146.2,726.2 L1147.1,726.7 L1148,726.7 L1148.9,728.4 L1149.8,729.5 L1150.7,728.9 L1151.6,729.4 L1152.4,729.3 L1153.3,730 L1154.2,730.7 L1155.1,730.3 L1156,728.4 L1156.9,728.7 L1157.8,729.3 L1158.7,729.3 L1159.6,728 L1160.4,729.2 L1161.3,729.3 L1162.2,728.6 L1163.1,728.9 L1164,729 L1164.9,730 L1165.8,730 L1166.7,730.7 L1167.6,730.4 L1168.4,731.1 L1169.3,731.5 L1170.2,731.6 L1171.1,730.9 L1172,731.1 L1172.9,731.2 L1173.8,731.6 L1174.7,731.1 L1175.6,732 L1176.4,733.4 L1177.3,733.3 L1178.2,732.2 L1179.1,731.6 L1180,731.5 L1180.9,731.6 L1181.8,731.5 L1182.7,731.1 L1183.6,731.6 L1184.4,730.7 L1185.3,730.6 L1186.2,730.7 L1187.1,731.2 L1188,730.2 L1188.9,729.8 L1189.8,729.3 L1190.7,729.8 L1191.6,730.2 L1192.4,730.1 L1193.3,730 L1194.2,729.2 L1195.1,730.2 L1196,729.6 L1196.9,729.3 L1197.8,728.3 L1198.7,728.4 L1199.6,726.7 L1200.4,726.7 L1201.8,726.2 L1202.7,723.6 L1203.6,724.5 L1204.4,724.4 L1205.3,723.6 L1206.2,724 L1207.1,724.6 L1208,725.3 L1208.9,726.2 L1209.8,726.2 L1210.7,725.9 L1211.6,725.3 L1212.4,724.3 L1213.3,724 L1214.2,724.5 L1215.1,724.9 L1216,724.5 L1216.9,724 L1217.8,725.3 L1218.7,725.6 L1219.6,723.9 L1220.4,723.6 L1221.3,724.1 L1222.2,724.4 L1223.1,723.1 L1224,722.7 L1224.9,722.7 L1225.8,723.6 L1226.7,724.5 L1227.6,724.4 L1228.4,723.6 L1229.3,722.7 L1230.2,722.1 L1231.1,721.3 L1232,722.5 L1232.9,722.7 L1233.8,722.5 L1234.7,720.9 L1235.6,721.2 L1236.4,721.8 L1237.3,721.8 L1238.2,721.3 L1239.1,720.7 L1240,720 L1241.3,717.3 L1242.2,717.8 L1243.1,718.2 L1244,717.9 L1244.9,716.9 L1245.8,717.3 L1246.7,717.8 L1247.6,717.2 L1248.4,716.4 L1249.3,717.1 L1250.2,717.8 L1251.1,718.1 L1252,716.9 L1253.3,711.1 L1254.7,706.7 L1256,705.6 L1257.3,704.4 L1258.7,704.9 L1260,703.3 L1261.3,705.6 L1262.7,703.3 L1264,706.2 L1265.3,708.9 L1266.2,709.7 L1267.1,709.8 L1268,710.9 L1268.9,710.7 L1269.8,711.1 L1270.7,710 L1271.6,710.1 L1272.4,711.1 L1273.3,711.5 L1274.2,711.6 L1275.1,712.8 L1276,712.4 L1276.9,712.4 L1277.8,711.1 L1278.7,710.7 L1279.6,711.6 L1280.4,709.8 L1281.3,709.3 L1282.2,709.9 L1283.1,710.7 L1284,710.4 L1284.9,711.6 L1285.8,709.5 L1286.7,708.4 L1287.6,707.9 L1288.4,708.9 L1289.3,708.3 L1290.2,707.1 L1291.1,708 L1292,707.8 L1292.9,707.7 L1293.8,706.2 L1294.7,705.8 L1295.6,706.7 L1296.4,706.2 L1297.3,704.9 L1298.7,700 L1299.6,699.6 L1300,701.9 L1301.5,701.2 L1303,701.5 L1304.2,701 L1304.8,692.5 L1305.2,686.9 L1306.2,689.8 L1307.5,689 L1309,687.8 L1310.5,687.2 L1312,688.1 L1313,687.5 L1313.8,681.2 L1314.8,680.6 L1315.8,681.2 L1316.8,685 L1317.8,684 L1318.8,681.2 L1320,680 L1321.2,680.6 L1322.5,679.8 L1323.8,679.4 L1324.8,680 L1325.5,678.1 L1326.5,677.5 L1327.2,680 L1327.8,688.8 L1328.2,692.5 L1329.2,693.1 L1330,695 L1331,699.4 L1332,698.8 L1333,697.5 L1334,696.9 L1335,698.1 L1336,696.9 L1336.8,693.8 L1337.5,690 L1338.2,687.5 L1339,686.9 L1339.8,690 L1340.8,691.2 L1341.8,691 L1342.5,688.8 L1343.2,682.5 L1344,677.5 L1344.8,673.8 L1345.5,671.2 L1346.2,668.8 L1347,663.5 L1348,663.2 L1348.5,667.5 L1349,672.5 L1349.5,678.8 L1350,685 L1350.8,688.1 L1351.5,687.5 L1352,683.8 L1352.8,681.9 L1353.8,681.2 L1354.8,683.8 L1355.8,685 L1356.8,682.5 L1357.8,682.2 L1358.5,685 L1359.2,688.8 L1360,691.2 L1361,692.5 L1361.8,688.8 L1362.5,685 L1363.2,684.8 L1364,687.5 L1364.8,690 L1365.5,692.5 L1366.2,693.1 L1367,691.2 L1367.8,689.4 L1368.8,688.1 L1369.8,687.5 L1370.8,686.2 L1371.5,683.8 L1372.2,680 L1373.2,679.8 L1374,680.6 L1374.8,682.5 L1375.8,682.2 L1376.8,681.2 L1377.5,678.1 L1378.5,677.5 L1379.5,678.1 L1380.5,679.4 L1381.2,680 L1382,683.8 L1382.8,687.5 L1383.5,691.2 L1384.2,693.1 L1385.2,694 L1386.2,693.5 L1387.2,693.8 L1388.2,695.6 L1389.2,696.9 L1390.2,696.5 L1391.2,696.2 L1392,692.5 L1392.8,689.4 L1393.8,688.5 L1394.8,687.5 L1395.8,686.9 L1396.8,687.5 L1397.5,690 L1398.2,691.9 L1399,694.4 L1399.8,696.2 L1400.8,694.4 L1401.8,693.1 L1402.8,692.8 L1403.5,688.8 L1404.2,687.2 L1405,687.5 L1405.8,685 L1406.2,683.1 L1407,686.2 L1407.8,689.4 L1408.5,687.5 L1409.2,688.8 L1410,688.5 L1410.8,691.9 L1411.5,690 L1412.2,688.8 L1413.2,688.1 L1414.2,687.5 L1415.2,686.9 L1416.2,685 L1417.2,683.8 L1418,683.5 L1418.8,686.2 L1419.5,688.8 L1420.5,689 L1421.5,688.5 L1422.5,687.5 L1423.5,685 L1424.5,684.5 L1425.2,685 L1426,688.8 L1426.8,691.9 L1427.5,694.4 L1428.5,694 L1429.5,693.8 L1430.5,694.4 L1431.5,695 L1432.2,692.5 L1433,690 L1433.8,685 L1434.5,682.5 L1435.2,682.2 L1436.2,680 L1437.2,679.8 L1438.2,680 L1439,681.9 L1439.8,681.2 L1440.8,682.5 L1441.5,685.6 L1442.2,688.1 L1443.2,687.8 L1444,687.5 L1444.8,685 L1445.5,681.9 L1446.2,681.5 L1447,685 L1447.8,688.8 L1448.8,687.5 L1449.8,689.4 L1450.8,688.8 L1451.8,690.6 L1452.8,688.1 L1453.5,688.8 L1454.2,692.5 L1455,693.8 L1455.8,690 L1456.5,685 L1457.2,681.9 L1458,680 L1458.8,679.4 L1459.5,680 L1460.2,682.5 L1461.2,683.8 L1462.2,685 L1463.2,685.6 L1464,687.5 L1464.8,691.2 L1465.5,694.4 L1466.2,696.9 L1467.2,697.2 L1468.2,696.9 L1469.2,696.2 L1470.2,698.1 L1471,702.5 L1471.8,705.6 L1472.5,708.8 L1473.2,705 L1473.8,709.4" fill="none" stroke="#000" stroke-width="2.3" stroke-linejoin="round" stroke-linecap="round"/>
<line x1="95.5" y1="845.8" x2="129.5" y2="845.8" stroke="#000" stroke-width="2.3"/>
<text x="136" y="851.6" font-size="15.5" text-anchor="start" fill="#2a2a2a" font-weight="normal" textLength="61.5" lengthAdjust="spacingAndGlyphs" >BTC YoY</text>
<line x1="210" y1="845.8" x2="244.5" y2="845.8" stroke="#1eaae6" stroke-width="2"/>
<text x="250.2" y="851.6" font-size="15.5" text-anchor="start" fill="#2a2a2a" font-weight="normal" textLength="107" lengthAdjust="spacingAndGlyphs" >Global M2 YoY</text>
<rect x="0" y="52" width="1600" height="1" fill="#e6e6e6"/>
<rect x="0" y="125" width="1600" height="1" fill="#e6e6e6"/>
<rect x="1486" y="52" width="1" height="73" fill="#e6e6e6"/>
<text x="20.5" y="25.9" font-size="31" text-anchor="start" fill="#333538" font-weight="bold" >Global M2 vs BTC YoY</text>
<g transform="translate(1532.5,89.5)" fill="#444"><path d="M7.2,1 L13.8,1 L15.6,3.2 L19,3.2 Q21,3.2 21,5.2 L21,18 Q21,20 19,20 L2,20 Q0,20 0,18 L0,5.2 Q0,3.2 2,3.2 L5.4,3.2 Z"/><circle cx="10.5" cy="11.5" r="5.6" fill="#fff"/><circle cx="10.5" cy="11.5" r="3.4" fill="#444"/></g>
<text x="1122.5" y="107.5" font-size="36" text-anchor="middle" fill="#000" font-weight="bold" >Global Liquidity YoY shows the clearest</text>
<text x="1121.5" y="157" font-size="36" text-anchor="middle" fill="#000" font-weight="bold" >influence of monetary expansion on $BTC</text>
<text x="1573" y="894.6" font-size="16.5" text-anchor="end" fill="#444" font-weight="normal" textLength="229" lengthAdjust="spacingAndGlyphs" >© 2025 Bitcoin Magazine Pro.</text>
</svg>
</body></html>
